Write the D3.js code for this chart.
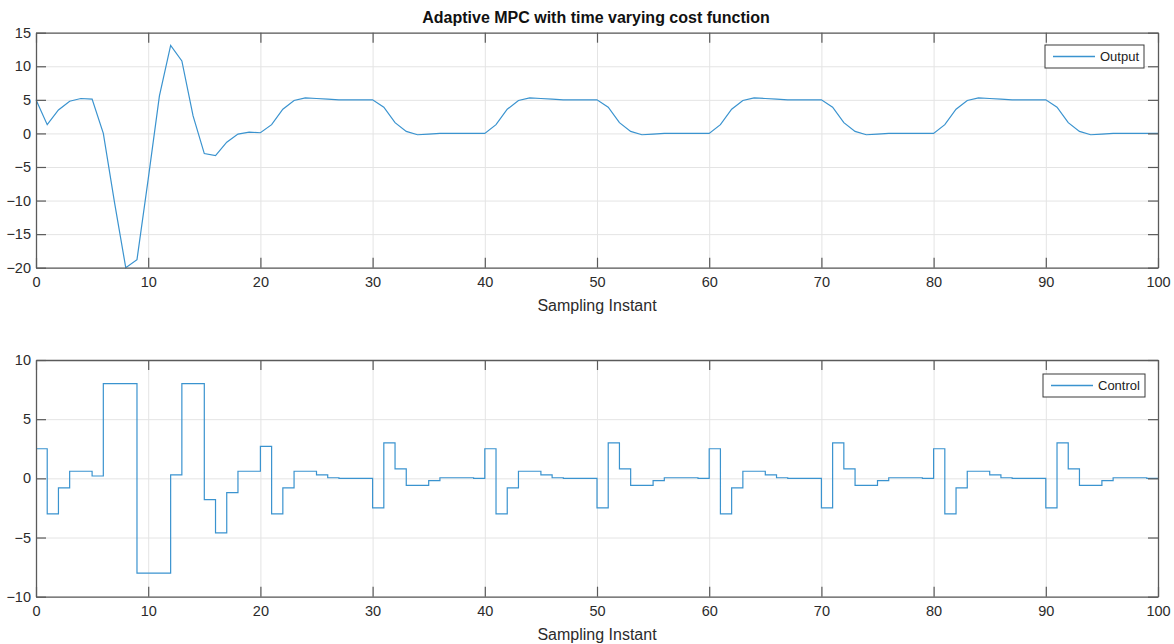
<!DOCTYPE html>
<html>
<head>
<meta charset="utf-8">
<script src="https://cdn.jsdelivr.net/npm/d3@7"></script>
<style>
  body { margin: 0; background: #fff; }
  text { font-family: "Liberation Sans", Arial, sans-serif; }
</style>
</head>
<body>
<div id="chart"></div>
<script>
var svgWidth = 1174;
var svgHeight = 644;

// sampling instants 0..100
var instants = d3.range(0, 101);

// system output, one value per sampling instant
var outputValues = [
  5, 1.3, 3.5, 4.8, 5.2, 5.1, 0, -10.3, -20, -18.8,
  -6.8, 5.6, 13.1, 10.8, 2.6, -3, -3.3, -1.3, -0.1, 0.2,
  0.1, 1.3, 3.6, 4.9, 5.3, 5.2, 5.1, 5, 5, 5,
  5, 3.9, 1.6, 0.3, -0.2, -0.1, 0, 0, 0, 0,
  0, 1.3, 3.6, 4.9, 5.3, 5.2, 5.1, 5, 5, 5,
  5, 3.9, 1.6, 0.3, -0.2, -0.1, 0, 0, 0, 0,
  0, 1.3, 3.6, 4.9, 5.3, 5.2, 5.1, 5, 5, 5,
  5, 3.9, 1.6, 0.3, -0.2, -0.1, 0, 0, 0, 0,
  0, 1.3, 3.6, 4.9, 5.3, 5.2, 5.1, 5, 5, 5,
  5, 3.9, 1.6, 0.3, -0.2, -0.1, 0, 0, 0, 0,
  0
];

// control signal (held between instants), last value repeated to close the stair
var controlValues = [
  2.5, -3, -0.8, 0.6, 0.6, 0.2, 8, 8, 8, -8,
  -8, -8, 0.3, 8, 8, -1.8, -4.6, -1.2, 0.6, 0.6,
  2.7, -3, -0.8, 0.6, 0.6, 0.3, 0.05, 0, 0, 0,
  -2.5, 3, 0.8, -0.6, -0.6, -0.2, 0.05, 0.05, 0.05, 0,
  2.5, -3, -0.8, 0.6, 0.6, 0.3, 0.05, 0, 0, 0,
  -2.5, 3, 0.8, -0.6, -0.6, -0.2, 0.05, 0.05, 0.05, 0,
  2.5, -3, -0.8, 0.6, 0.6, 0.3, 0.05, 0, 0, 0,
  -2.5, 3, 0.8, -0.6, -0.6, -0.2, 0.05, 0.05, 0.05, 0,
  2.5, -3, -0.8, 0.6, 0.6, 0.3, 0.05, 0, 0, 0,
  -2.5, 3, 0.8, -0.6, -0.6, -0.2, 0.05, 0.05, 0.05, 0,
  0
];

var xTicks = [0, 10, 20, 30, 40, 50, 60, 70, 80, 90, 100];
var outputTicks = [-20, -15, -10, -5, 0, 5, 10, 15];
var controlTicks = [-10, -5, 0, 5, 10];

var titleText = "Adaptive MPC with time varying cost function";
var xLabel = "Sampling Instant";

var lineColor = "#3a93cf";
var axisColor = "#5a5a5a";
var gridColor = "#e4e4e4";

var svg = d3.select("#chart")
  .append("svg")
  .attr("width", svgWidth)
  .attr("height", svgHeight);

///////////////////////////////////////////////////////////////////////

function drawPanel(opts) {
  var xScale = d3.scaleLinear().domain([0, 100]).range([36, 1158]);
  var yScale = d3.scaleLinear().domain(opts.yDomain).range([opts.bottom, opts.top]);
  var w = 1158 - 36;
  var h = opts.bottom - opts.top;

  var g = svg.append("g");

  // grid
  g.append("g")
    .attr("transform", `translate(0, ${opts.bottom})`)
    .call(d3.axisBottom(xScale).tickValues(xTicks).tickSize(-h).tickFormat(""))
    .call(s => s.select(".domain").remove())
    .selectAll("line").attr("stroke", gridColor);
  g.append("g")
    .attr("transform", "translate(36, 0)")
    .call(d3.axisLeft(yScale).tickValues(opts.yTicks).tickSize(-w).tickFormat(""))
    .call(s => s.select(".domain").remove())
    .selectAll("line").attr("stroke", gridColor);

  // data line
  var line = d3.line()
    .x((d, i) => xScale(instants[i]))
    .y(d => yScale(d))
    .curve(opts.curve);
  g.append("path")
    .datum(opts.values)
    .attr("fill", "none")
    .attr("stroke", lineColor)
    .attr("stroke-width", 1.2)
    .attr("d", line);

  // axes (box with inward ticks)
  var bottomAxis = g.append("g")
    .attr("transform", `translate(0, ${opts.bottom})`)
    .call(d3.axisBottom(xScale).tickValues(xTicks).tickSize(-10).tickSizeOuter(0).tickPadding(9));
  var topAxis = g.append("g")
    .attr("transform", `translate(0, ${opts.top})`)
    .call(d3.axisTop(xScale).tickValues(xTicks).tickSize(-10).tickSizeOuter(0).tickFormat(""));
  var leftAxis = g.append("g")
    .attr("transform", "translate(36, 0)")
    .call(d3.axisLeft(yScale).tickValues(opts.yTicks).tickSize(-10).tickSizeOuter(0).tickPadding(5));
  var rightAxis = g.append("g")
    .attr("transform", "translate(1158, 0)")
    .call(d3.axisRight(yScale).tickValues(opts.yTicks).tickSize(-10).tickSizeOuter(0).tickFormat(""));

  [bottomAxis, topAxis, leftAxis, rightAxis].forEach(function(a) {
    a.select(".domain").attr("stroke", axisColor).attr("stroke-width", 1.3);
    a.selectAll("line").attr("stroke", axisColor).attr("stroke-width", 1.2);
    a.selectAll("text")
      .attr("fill", "#2b2b2b")
      .style("font-size", "14.5px")
      .style("font-family", "'Liberation Sans', Arial, sans-serif");
  });

  // x label
  g.append("text")
    .attr("x", 597)
    .attr("y", opts.bottom + 43)
    .attr("text-anchor", "middle")
    .attr("fill", "#2b2b2b")
    .style("font-size", "16px")
    .text(xLabel);

  // legend
  var lg = g.append("g").attr("transform", `translate(${opts.legendX}, ${opts.legendY})`);
  lg.append("rect")
    .attr("width", opts.legendW)
    .attr("height", 23)
    .attr("fill", "#fff")
    .attr("stroke", "#3a3a3a")
    .attr("stroke-width", 1);
  lg.append("line")
    .attr("x1", 8).attr("x2", 50)
    .attr("y1", 11.5).attr("y2", 11.5)
    .attr("stroke", lineColor)
    .attr("stroke-width", 1.3);
  lg.append("text")
    .attr("x", 55)
    .attr("y", 16)
    .attr("fill", "#222")
    .style("font-size", "13px")
    .text(opts.name);
}

drawPanel({
  top: 32.7, bottom: 267.7,
  yDomain: [-20, 15], yTicks: outputTicks,
  values: outputValues, curve: d3.curveLinear,
  name: "Output", legendX: 1045, legendY: 45, legendW: 99
});

drawPanel({
  top: 360, bottom: 596.7,
  yDomain: [-10, 10], yTicks: controlTicks,
  values: controlValues, curve: d3.curveStepAfter,
  name: "Control", legendX: 1043, legendY: 374, legendW: 102
});

svg.append("text")
  .attr("x", 596)
  .attr("y", 23)
  .attr("text-anchor", "middle")
  .attr("fill", "#111")
  .style("font-size", "16px")
  .style("font-weight", "bold")
  .text(titleText);
</script>
</body>
</html>
